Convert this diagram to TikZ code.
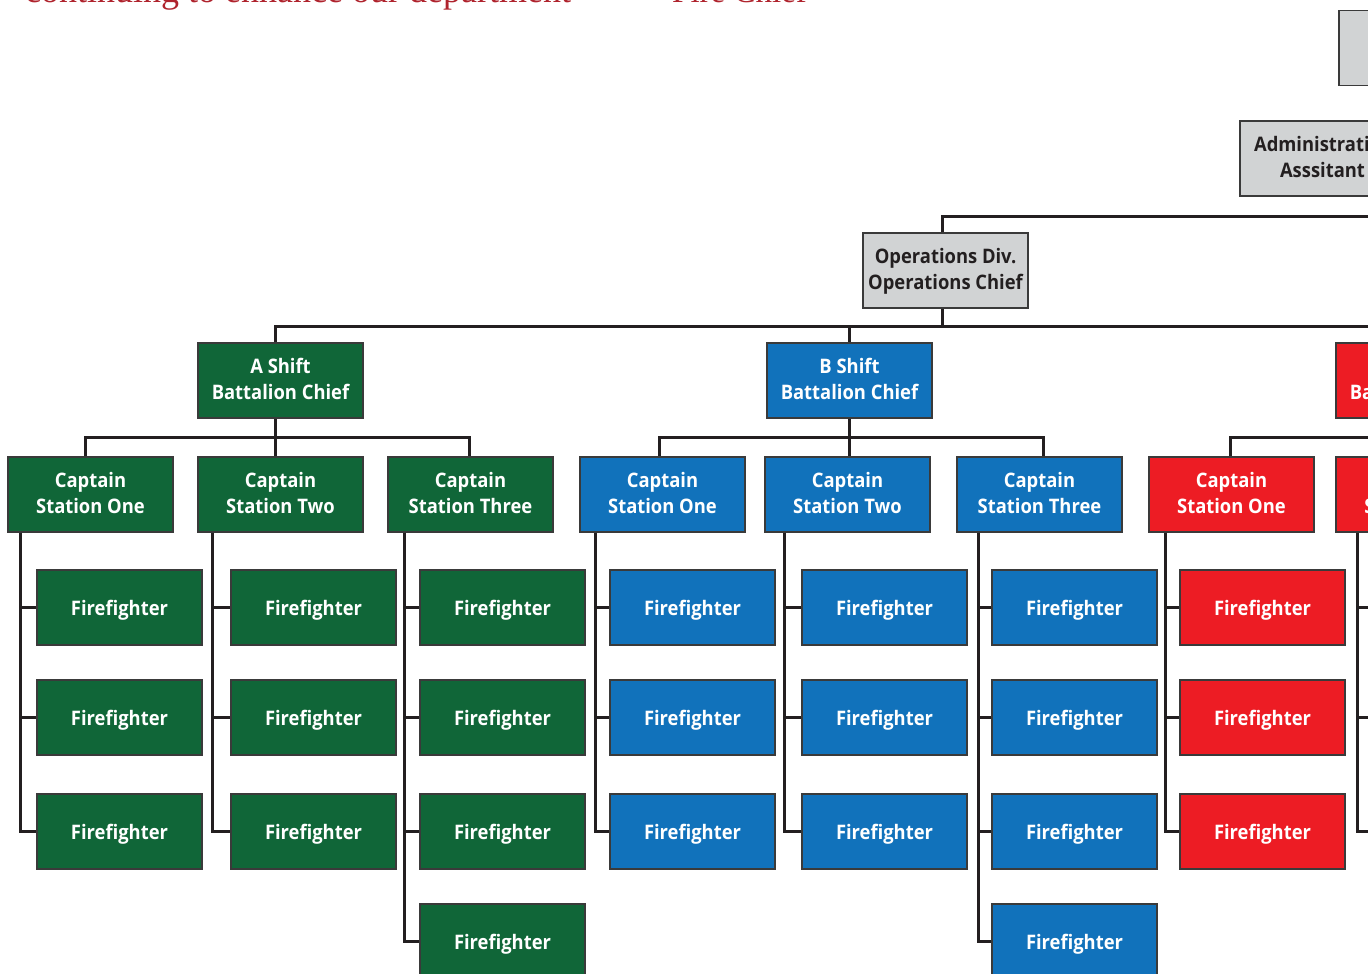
\documentclass[tikz,border=0pt]{standalone}
\usepackage{fontspec}
\setmainfont{Open Sans}[FakeStretch=0.92]
\newfontfamily\titlefont{Liberation Serif}
\definecolor{ggreen}{HTML}{106638}
\definecolor{gblue}{HTML}{1172BB}
\definecolor{gred}{HTML}{ED1C24}
\definecolor{ggray}{HTML}{D1D3D4}
\definecolor{bord}{HTML}{3A3A3A}
\definecolor{lin}{HTML}{231F20}
\definecolor{titred}{HTML}{AF232D}
\tikzset{
  box/.style={draw=bord, line width=1.5pt, minimum width=165pt, minimum height=75pt,
    inner sep=0pt, align=center, font=\bfseries\fontsize{20}{26}\selectfont, text=white,
    text depth=4pt},
  ffbox/.style={box, text depth=0pt},
  gry/.style={box, fill=ggray, text=lin},
  conn/.style={draw=lin, line width=3pt},
  ttl/.style={text=titred, font=\titlefont\fontsize{36}{40}\selectfont, anchor=base west, inner sep=0pt}
}
\begin{document}
\begin{tikzpicture}[x=1pt,y=-1pt]
\useasboundingbox (0,0) rectangle (1368,974);
\clip (0,0) rectangle (1368,974);
% title fragments
\node[ttl] (t1) at (25,3) {continuing to enhance our department};
\node[ttl, font=\titlefont\fontsize{33}{40}\selectfont] (t2) at (672,3) {Fire Chief};
% upper gray boxes
\node[gry] (TOP) at (1421.5,48) {};
\node[gry] (ADM) at (1322.5,158.5) {Administrative\\Asssitant};
\node[gry] (OPS) at (945.5,270.5) {Operations Div.\\Operations Chief};
% shifts
\node[box, fill=ggreen] (ASH) at (280.5,380.5) {A Shift\\Battalion Chief};
\node[box, fill=gblue]  (BSH) at (849.5,380.5) {B Shift\\Battalion Chief};
\node[box, fill=gred]   (CSH) at (1418.5,380.5) {C Shift\\Battalion Chief};
% captains
\node[box, fill=ggreen] (A1) at (90.5,494.5) {Captain\\Station One};
\node[box, fill=ggreen] (A2) at (280.5,494.5) {Captain\\Station Two};
\node[box, fill=ggreen] (A3) at (470.5,494.5) {Captain\\Station Three};
\node[box, fill=gblue]  (B1) at (662.5,494.5) {Captain\\Station One};
\node[box, fill=gblue]  (B2) at (847.5,494.5) {Captain\\Station Two};
\node[box, fill=gblue]  (B3) at (1039.5,494.5) {Captain\\Station Three};
\node[box, fill=gred]   (C1) at (1231.5,494.5) {Captain\\Station One};
\node[box, fill=gred]   (C2) at (1418.5,494.5) {Captain\\Station Two};
% top connectors
\coordinate (busTop) at (942,216);
\coordinate (topR) at (1500,216);
\draw[conn] (OPS.north -| busTop) -- (busTop) -- (topR);
\coordinate (busMain) at (942,326);
\draw[conn] (OPS.south -| busMain) -- (busMain);
\draw[conn] (busMain) -| ([xshift=-5.5pt]ASH.north);
\draw[conn] (busMain) -| ([xshift=-0.5pt]BSH.north);
\draw[conn] (busMain) -| ([xshift=-4pt]CSH.north);
% captain buses
\coordinate (busA) at (275,437);
\draw[conn] (ASH.south -| busA) -- (busA);
\draw[conn] (busA) -| ([xshift=-5.5pt]A1.north);
\draw[conn] (busA) -- (A2.north -| busA);
\draw[conn] (busA) -| ([xshift=-1.5pt]A3.north);
\coordinate (busB) at (849,437);
\draw[conn] (BSH.south -| busB) -- (busB);
\draw[conn] (busB) -| ([xshift=-3.5pt]B1.north);
\draw[conn] (busB) -- (B2.north -| busB);
\draw[conn] (busB) -| ([xshift=3.5pt]B3.north);
\coordinate (busC) at (1414,437);
\draw[conn] (CSH.south -| busC) -- (busC);
\draw[conn] (busC) -| ([xshift=-1.5pt]C1.north);
\draw[conn] (busC) -- (C2.north -| busC);
% spines
\coordinate (SA1) at (20,0);
\coordinate (SA2) at (212,0);
\coordinate (SA3) at (404,0);
\coordinate (SB1) at (595,0);
\coordinate (SB2) at (784,0);
\coordinate (SB3) at (978,0);
\coordinate (SC1) at (1165,0);
\coordinate (SC2) at (1357,0);
% firefighters
\foreach \c/\x/\n/\col in {A1/119.5/3/ggreen, A2/313.5/3/ggreen, A3/502.5/4/ggreen,
    B1/692.5/3/gblue, B2/884.5/3/gblue, B3/1074.5/4/gblue,
    C1/1262.5/3/gred, C2/1454.5/3/gred}{
  \foreach \r in {1,...,\n}{
    \pgfmathsetmacro\yy{{607.5,717.5,831.5,941.5}[\r-1]}
    \node[ffbox, fill=\col] (F\c\r) at (\x,\yy) {Firefighter};
    \draw[conn] (\c.south -| S\c) |- (F\c\r.west);
  }
}
\end{tikzpicture}
\end{document}
